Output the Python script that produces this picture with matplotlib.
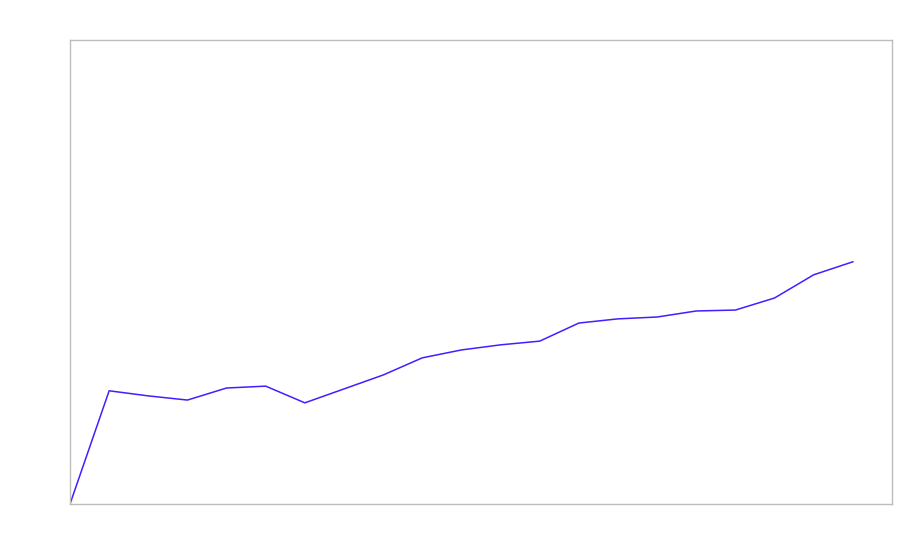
import matplotlib
matplotlib.use("Agg")
import matplotlib.pyplot as plt

# values (y axis 0..100, x index 0..20)
steps = list(range(21))
values = [0, 24.4, 23.3, 22.4, 25.0, 25.4, 21.8, 24.8, 27.8, 31.5, 33.2,
          34.3, 35.1, 39.0, 39.9, 40.3, 41.6, 41.8, 44.4, 49.4, 52.2]

fig = plt.figure(figsize=(9, 5.6), dpi=100)
ax = fig.add_axes([70 / 900, 56 / 560, 822 / 900, 464 / 560])

ax.plot(steps, values, color="#4020ff", linewidth=1.1)

ax.set_xlim(0, 21)
ax.set_ylim(0, 100)
ax.set_xticks([])
ax.set_yticks([])
for spine in ax.spines.values():
    spine.set_color("#bdbdbd")
    spine.set_linewidth(1)

fig.savefig("out.png", dpi=100)
plt.close(fig)
